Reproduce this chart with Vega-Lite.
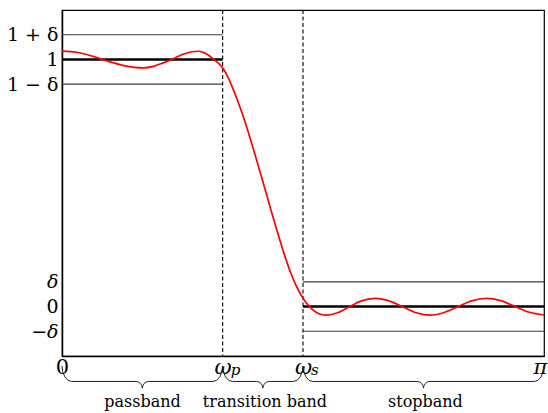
{
  "$schema": "https://vega.github.io/schema/vega-lite/v6.json",
  "width": 482,
  "height": 346,
  "autosize": "none",
  "padding": {"top": 10, "left": 62, "right": 4, "bottom": 57},
  "background": "white",
  "config": {"view": {"stroke": "black", "strokeWidth": 1.2}},
  "datasets": {
    "curve": [
      {"x": 0, "y": 1.034}, {"x": 0.03, "y": 1.029}, {"x": 0.06, "y": 1.015}, {"x": 0.09, "y": 0.996},
      {"x": 0.12, "y": 0.979}, {"x": 0.15, "y": 0.968}, {"x": 0.168, "y": 0.966}, {"x": 0.19, "y": 0.972},
      {"x": 0.21, "y": 0.986}, {"x": 0.228, "y": 1.0}, {"x": 0.25, "y": 1.02}, {"x": 0.27, "y": 1.031},
      {"x": 0.284, "y": 1.033}, {"x": 0.3, "y": 1.022}, {"x": 0.315, "y": 1.0}, {"x": 0.3347, "y": 0.962},
      {"x": 0.345, "y": 0.925}, {"x": 0.355, "y": 0.88}, {"x": 0.365, "y": 0.83}, {"x": 0.375, "y": 0.775},
      {"x": 0.385, "y": 0.715}, {"x": 0.395, "y": 0.651}, {"x": 0.405, "y": 0.585}, {"x": 0.415, "y": 0.517},
      {"x": 0.425, "y": 0.449}, {"x": 0.435, "y": 0.381}, {"x": 0.445, "y": 0.314}, {"x": 0.455, "y": 0.25},
      {"x": 0.465, "y": 0.189}, {"x": 0.475, "y": 0.134}, {"x": 0.485, "y": 0.088}, {"x": 0.495, "y": 0.05},
      {"x": 0.505, "y": 0.02}, {"x": 0.515, "y": -0.003}, {"x": 0.528, "y": -0.024}, {"x": 0.546, "y": -0.035},
      {"x": 0.57, "y": -0.026},
      {"x": 0.597, "y": 0.0}, {"x": 0.62, "y": 0.022}, {"x": 0.649, "y": 0.033}, {"x": 0.675, "y": 0.025},
      {"x": 0.706, "y": 0.0}, {"x": 0.735, "y": -0.025}, {"x": 0.763, "y": -0.035}, {"x": 0.79, "y": -0.026},
      {"x": 0.822, "y": 0.0}, {"x": 0.85, "y": 0.023}, {"x": 0.881, "y": 0.033}, {"x": 0.91, "y": 0.024},
      {"x": 0.94, "y": 0.0}, {"x": 0.97, "y": -0.023}, {"x": 1.0, "y": -0.034}
    ],
    "hlines": [
      {"x": 0, "x2": 0.33333, "y": 1.1, "kind": "thin"},
      {"x": 0, "x2": 0.33333, "y": 0.9, "kind": "thin"},
      {"x": 0.5, "x2": 1, "y": 0.1, "kind": "thin"},
      {"x": 0.5, "x2": 1, "y": -0.1, "kind": "thin"},
      {"x": 0, "x2": 0.33333, "y": 1.0, "kind": "thick"},
      {"x": 0.5, "x2": 1, "y": 0.0, "kind": "thick"}
    ],
    "vlines": [{"x": 0.33333}, {"x": 0.5}],
    "subs": [{"x": 0.33333, "y": -0.2, "t": "p"}, {"x": 0.5, "y": -0.2, "t": "s"}],
    "braces": [
      {"b": "A", "o": 1, "x": 0, "y": -0.24}, {"b": "A", "o": 2, "x": 0.0015, "y": -0.264},
      {"b": "A", "o": 3, "x": 0.006, "y": -0.2845}, {"b": "A", "o": 4, "x": 0.0123, "y": -0.2982},
      {"b": "A", "o": 5, "x": 0.02, "y": -0.303}, {"b": "A", "o": 6, "x": 0.1537, "y": -0.303},
      {"b": "A", "o": 7, "x": 0.1587, "y": -0.305}, {"b": "A", "o": 8, "x": 0.1629, "y": -0.311},
      {"b": "A", "o": 9, "x": 0.1657, "y": -0.32}, {"b": "A", "o": 10, "x": 0.16667, "y": -0.33},
      {"b": "A", "o": 11, "x": 0.1677, "y": -0.32}, {"b": "A", "o": 12, "x": 0.1705, "y": -0.311},
      {"b": "A", "o": 13, "x": 0.1747, "y": -0.305}, {"b": "A", "o": 14, "x": 0.1797, "y": -0.303},
      {"b": "A", "o": 15, "x": 0.3133, "y": -0.303}, {"b": "A", "o": 16, "x": 0.321, "y": -0.2982},
      {"b": "A", "o": 17, "x": 0.3273, "y": -0.2845}, {"b": "A", "o": 18, "x": 0.3318, "y": -0.264},
      {"b": "A", "o": 19, "x": 0.33333, "y": -0.24},
      {"b": "B", "o": 1, "x": 0.33333, "y": -0.24}, {"b": "B", "o": 2, "x": 0.3348, "y": -0.264},
      {"b": "B", "o": 3, "x": 0.3393, "y": -0.2845}, {"b": "B", "o": 4, "x": 0.3456, "y": -0.2982},
      {"b": "B", "o": 5, "x": 0.3533, "y": -0.303}, {"b": "B", "o": 6, "x": 0.4037, "y": -0.303},
      {"b": "B", "o": 7, "x": 0.4087, "y": -0.305}, {"b": "B", "o": 8, "x": 0.4129, "y": -0.311},
      {"b": "B", "o": 9, "x": 0.4157, "y": -0.32}, {"b": "B", "o": 10, "x": 0.41667, "y": -0.33},
      {"b": "B", "o": 11, "x": 0.4177, "y": -0.32}, {"b": "B", "o": 12, "x": 0.4205, "y": -0.311},
      {"b": "B", "o": 13, "x": 0.4247, "y": -0.305}, {"b": "B", "o": 14, "x": 0.4297, "y": -0.303},
      {"b": "B", "o": 15, "x": 0.48, "y": -0.303}, {"b": "B", "o": 16, "x": 0.4877, "y": -0.2982},
      {"b": "B", "o": 17, "x": 0.494, "y": -0.2845}, {"b": "B", "o": 18, "x": 0.4985, "y": -0.264},
      {"b": "B", "o": 19, "x": 0.5, "y": -0.24},
      {"b": "C", "o": 1, "x": 0.5, "y": -0.24}, {"b": "C", "o": 2, "x": 0.5015, "y": -0.264},
      {"b": "C", "o": 3, "x": 0.506, "y": -0.2845}, {"b": "C", "o": 4, "x": 0.5123, "y": -0.2982},
      {"b": "C", "o": 5, "x": 0.52, "y": -0.303}, {"b": "C", "o": 6, "x": 0.737, "y": -0.303},
      {"b": "C", "o": 7, "x": 0.742, "y": -0.305}, {"b": "C", "o": 8, "x": 0.7462, "y": -0.311},
      {"b": "C", "o": 9, "x": 0.749, "y": -0.32}, {"b": "C", "o": 10, "x": 0.75, "y": -0.33},
      {"b": "C", "o": 11, "x": 0.751, "y": -0.32}, {"b": "C", "o": 12, "x": 0.7538, "y": -0.311},
      {"b": "C", "o": 13, "x": 0.758, "y": -0.305}, {"b": "C", "o": 14, "x": 0.763, "y": -0.303},
      {"b": "C", "o": 15, "x": 0.98, "y": -0.303}, {"b": "C", "o": 16, "x": 0.9877, "y": -0.2982},
      {"b": "C", "o": 17, "x": 0.994, "y": -0.2845}, {"b": "C", "o": 18, "x": 0.9985, "y": -0.264},
      {"b": "C", "o": 19, "x": 1.0, "y": -0.24}
    ],
    "bands": [
      {"x": 0.167, "y": -0.405, "label": "passband"},
      {"x": 0.421, "y": -0.405, "label": "transition band"},
      {"x": 0.754, "y": -0.405, "label": "stopband"}
    ]
  },
  "encoding": {
    "x": {"field": "x", "type": "quantitative"},
    "y": {"field": "y", "type": "quantitative"}
  },
  "layer": [
    {
      "data": {"name": "hlines"},
      "mark": {"type": "rule", "color": "#000000"},
      "encoding": {
        "x": {
          "field": "x", "type": "quantitative",
          "scale": {"domain": [0, 1], "nice": false, "zero": false},
          "axis": {
            "values": [0, 0.33333, 0.5, 1],
            "labelExpr": "datum.value == 0 ? '0' : (datum.value < 0.6 ? 'ω' : 'π')",
            "title": null, "grid": false, "ticks": false,
            "domainColor": "black", "domainWidth": 1.5,
            "labelFont": "DejaVu Serif", "labelFontSize": 21, "labelColor": "black",
            "labelFontStyle": {"condition": {"test": "datum.value == 0", "value": "normal"}, "value": "italic"},
            "labelOffset": {"condition": {"test": "datum.value == 1", "value": -4}, "value": 0},
            "labelPadding": 0, "labelFlush": false, "labelOverlap": false
          }
        },
        "x2": {"field": "x2"},
        "y": {
          "field": "y", "type": "quantitative",
          "scale": {"domain": [-0.2, 1.2], "nice": false, "zero": false},
          "axis": {
            "values": [-0.1, 0, 0.1, 0.9, 1, 1.1],
            "labelExpr": "datum.value < -0.05 ? '−δ' : (datum.value < 0.05 ? '0' : (datum.value < 0.5 ? 'δ' : (datum.value < 0.95 ? '1 − δ' : (datum.value < 1.05 ? '1' : '1 + δ'))))",
            "title": null, "grid": false, "ticks": false,
            "domainColor": "black", "domainWidth": 1.5,
            "labelFont": "DejaVu Serif", "labelFontSize": 19, "labelColor": "black",
            "labelFontStyle": {"condition": {"test": "abs(datum.value) > 0.05 && abs(datum.value) < 0.15", "value": "italic"}, "value": "normal"},
            "labelPadding": 4, "labelFlush": false, "labelOverlap": false
          }
        },
        "strokeWidth": {
          "field": "kind", "type": "nominal",
          "scale": {"domain": ["thin", "thick"], "range": [1.1, 2.6]},
          "legend": null
        },
        "color": {
          "field": "kind", "type": "nominal",
          "scale": {"domain": ["thin", "thick"], "range": ["#3a3a3a", "#000000"]},
          "legend": null
        }
      }
    },
    {
      "data": {"name": "vlines"},
      "mark": {"type": "rule", "color": "black", "strokeWidth": 1.1, "strokeDash": [4, 2.5]},
      "encoding": {"x": {"field": "x", "type": "quantitative"}, "y": null}
    },
    {
      "data": {"name": "curve"},
      "mark": {"type": "line", "color": "#ff0000", "strokeWidth": 1.7, "interpolate": "monotone"}
    },
    {
      "data": {"name": "braces"},
      "mark": {"type": "line", "color": "#222222", "strokeWidth": 1, "clip": false},
      "encoding": {
        "x": {"field": "x", "type": "quantitative"},
        "y": {"field": "y", "type": "quantitative"},
        "detail": {"field": "b", "type": "nominal"},
        "order": {"field": "o", "type": "quantitative"}
      }
    },
    {
      "data": {"name": "subs"},
      "mark": {"type": "text", "font": "DejaVu Serif", "fontStyle": "italic", "fontSize": 15, "color": "black", "baseline": "alphabetic", "align": "left", "dx": 8, "dy": 19, "clip": false},
      "encoding": {"text": {"field": "t", "type": "nominal"}}
    },
    {
      "data": {"name": "bands"},
      "mark": {"type": "text", "font": "DejaVu Serif", "fontSize": 16, "color": "black", "baseline": "alphabetic", "align": "center", "clip": false},
      "encoding": {"text": {"field": "label", "type": "nominal"}}
    }
  ]
}
